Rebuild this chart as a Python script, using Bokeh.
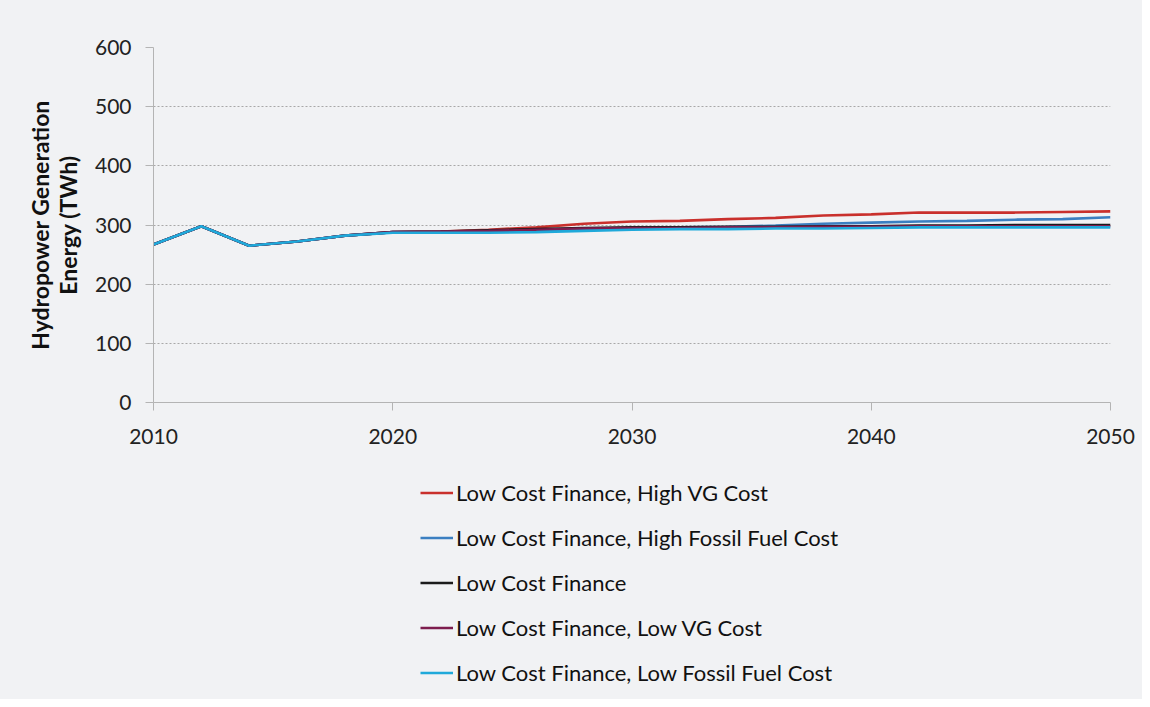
from bokeh.plotting import figure
from bokeh.layouts import column
from bokeh.models import Legend, LegendItem, Range1d, FixedTicker
from bokeh.embed import file_html
from bokeh.resources import INLINE

years = [2010, 2012, 2014, 2016, 2018, 2020, 2022, 2024, 2026, 2028, 2030,
         2032, 2034, 2036, 2038, 2040, 2042, 2044, 2046, 2048, 2050]

high_vg = [267, 298, 265, 272, 282, 288, 289, 292, 296, 302, 306,
           307, 310, 312, 316, 318, 321, 321, 321, 322, 323]
high_ff = [267, 298, 265, 272, 282, 288, 288, 289, 291, 293, 295,
           296, 297, 299, 302, 304, 306, 307, 309, 310, 313]
base = [267, 298, 265, 272, 282, 288, 289, 291, 293, 295, 296,
        296, 297, 297, 298, 298, 299, 299, 300, 300, 300]
low_vg = [267, 298, 265, 272, 282, 288, 289, 290, 292, 294, 295,
          295, 296, 296, 297, 297, 298, 298, 298, 298, 298]
low_ff = [267, 298, 265, 272, 282, 287, 287, 287, 288, 290, 292,
          293, 293, 294, 294, 295, 296, 296, 296, 296, 296]

series_names = ["Low Cost Finance, High VG Cost",
                "Low Cost Finance, High Fossil Fuel Cost",
                "Low Cost Finance",
                "Low Cost Finance, Low VG Cost",
                "Low Cost Finance, Low Fossil Fuel Cost"]
series_values = [high_vg, high_ff, base, low_vg, low_ff]
series_colors = ["#c9302c", "#3b7fc1", "#1b1b1b", "#7d1d4e", "#1fa9da"]

x_ticks = [2010, 2020, 2030, 2040, 2050]
y_ticks = [0, 100, 200, 300, 400, 500, 600]

BG = "#f1f2f4"
FONT = "Lato"
W = 1142
H_TOP = 460
H_LEG = 239
LEFT = 153
RIGHT = 32

# ---- main chart ----
p = figure(width=W, height=H_TOP, output_backend="svg", toolbar_location=None,
           x_range=Range1d(2010, 2050), y_range=Range1d(0, 600),
           min_border_left=LEFT, min_border_right=RIGHT, min_border_top=47,
           min_border_bottom=58)
p.background_fill_color = BG
p.border_fill_color = BG
p.outline_line_color = None

for vals, col in zip(series_values, series_colors):
    p.line(years, vals, line_color=col, line_width=2.6)

p.xgrid.grid_line_color = None
p.ygrid.grid_line_color = "#a8a8a8"
p.ygrid.grid_line_dash = "2 2"
p.ygrid.grid_line_width = 1

p.xaxis.ticker = FixedTicker(ticks=x_ticks)
p.yaxis.ticker = FixedTicker(ticks=y_ticks)
p.xaxis.minor_tick_line_color = None
p.yaxis.minor_tick_line_color = None
for ax in (p.xaxis, p.yaxis):
    ax.axis_line_color = "#b4b4b4"
    ax.major_tick_line_color = "#b4b4b4"
    ax.major_tick_in = 0
    ax.major_tick_out = 8
    ax.major_label_text_font = FONT
    ax.major_label_text_font_size = "21px"
    ax.major_label_text_color = "#222222"
p.xaxis.major_label_standoff = 18
p.yaxis.major_label_standoff = 14

p.yaxis.axis_label = "Hydropower Generation\nEnergy (TWh)"
p.yaxis.axis_label_text_font = FONT
p.yaxis.axis_label_text_font_size = "23px"
p.yaxis.axis_label_text_font_style = "bold"
p.yaxis.axis_label_text_color = "#111111"
p.yaxis.axis_label_text_line_height = 1.0
p.yaxis.axis_label_standoff = 10

# ---- legend strip (series kept out of view, only legend shown) ----
q = figure(width=W, height=H_LEG, output_backend="svg", toolbar_location=None,
           x_range=Range1d(0, 1), y_range=Range1d(0, 1),
           x_axis_location=None, y_axis_location=None,
           min_border_left=LEFT, min_border_right=RIGHT,
           min_border_top=0, min_border_bottom=0)
q.background_fill_color = BG
q.border_fill_color = BG
q.outline_line_color = None
q.grid.grid_line_color = None

items = []
for name, vals, col in zip(series_names, series_values, series_colors):
    r = q.line(years, vals, line_color=col, line_width=2.6)
    items.append(LegendItem(label=name, renderers=[r]))

legend = Legend(items=items, location=(267, 13), orientation="vertical",
                label_text_font=FONT, label_text_font_size="22px",
                label_text_color="#111111",
                glyph_width=33, glyph_height=27, label_height=27,
                spacing=18, padding=0, margin=0, label_standoff=3,
                background_fill_alpha=0, border_line_alpha=0)
q.add_layout(legend, "center")

layout = column(p, q, spacing=0, styles={"background-color": BG})
open("out.html", "w").write(file_html(layout, INLINE))
